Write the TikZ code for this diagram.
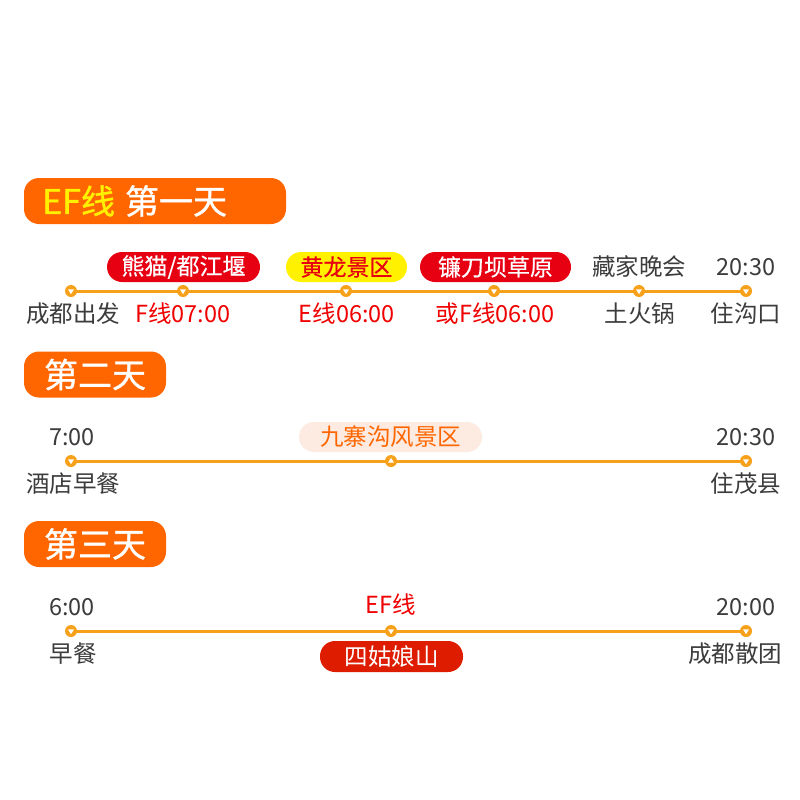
\documentclass[tikz,border=0pt]{standalone}
\usepackage{fontspec}
\setmainfont{Noto Sans CJK SC}
\newfontfamily\hdrfont[FakeBold=1]{Noto Sans CJK SC}
\newfontfamily\pillfont[FakeBold=0.4]{Noto Sans CJK SC}
\usetikzlibrary{backgrounds}
\definecolor{hdor}{HTML}{FF6600}
\definecolor{lnor}{HTML}{F7A11A}
\definecolor{pred}{HTML}{E60012}
\definecolor{pyel}{HTML}{FFF100}
\definecolor{ppch}{HTML}{FDEBE1}
\definecolor{pred3}{HTML}{DD1C00}
\definecolor{txred}{HTML}{F00000}
\definecolor{txgray}{HTML}{3C3C3C}
\begin{document}
\begin{tikzpicture}[x=1pt,y=-1pt,
  hdr/.style={fill=hdor, rounded corners=15pt, minimum height=46pt, inner sep=0pt, text=white, font=\hdrfont\fontsize{34}{34}\selectfont},
  pill/.style={rounded corners=15pt, minimum height=30pt, inner sep=0pt, font=\pillfont\fontsize{23}{23}\selectfont},
  lab/.style={inner sep=0pt, text=txgray, font=\fontsize{23.5}{23.5}\selectfont},
  redlab/.style={lab, text=txred},
  mdown/.style={circle, fill=lnor, inner sep=0pt, minimum size=12pt,
    path picture={\fill[white] ([xshift=-3pt,yshift=1.7pt]path picture bounding box.center) -- ([xshift=3pt,yshift=1.7pt]path picture bounding box.center) -- ([yshift=-3.2pt]path picture bounding box.center) -- cycle;}},
  mup/.style={circle, fill=lnor, inner sep=0pt, minimum size=12pt,
    path picture={\fill[white] ([xshift=-3pt,yshift=-1.7pt]path picture bounding box.center) -- ([xshift=3pt,yshift=-1.7pt]path picture bounding box.center) -- ([yshift=3.2pt]path picture bounding box.center) -- cycle;}},
  tl/.style={draw=lnor, line width=3pt}
]
\useasboundingbox (0,0) rectangle (800,800);

% ---------- Day 1 ----------
\node[hdr, minimum width=262pt] (h1) at (155,201) {};
\node[anchor=west, inner sep=0pt, font=\hdrfont\fontsize{34}{34}\selectfont] (h1t) at (42,201) {\textcolor{pyel}{EF线}\hspace{10pt}\textcolor{white}{第一天}};

\node[mdown] (a1) at (71,291) {};
\node[mdown] (a2) at (183,291) {};
\node[mdown] (a3) at (346,291) {};
\node[mdown] (a4) at (494,291) {};
\node[mdown] (a5) at (639,291) {};
\node[mdown] (a6) at (746,291) {};
\begin{scope}[on background layer]
\fill[white] (0,0) rectangle (800,800);
\draw[tl] (a1.center) -- (a6.center);
\end{scope}

\node[pill, fill=pred, text=white, minimum width=153pt] (p1) at (183.5,267) {熊猫/都江堰};
\node[pill, fill=pyel, text=pred, minimum width=121pt] (p2) at (346.5,267) {黄龙景区};
\node[pill, fill=pred, text=white, minimum width=151pt] (p3) at (495.5,267) {镰刀坝草原};
\node[lab] (t5) at (639,267) {藏家晚会};
\node[lab] (t6) at (746,267) {20:30};

\node[lab] (b1) at (73,314) {成都出发};
\node[redlab] (b2) at (183,314) {F线07:00};
\node[redlab] (b3) at (347,314) {E线06:00};
\node[redlab] (b4) at (495,314) {或F线06:00};
\node[lab] (b5) at (640,314) {土火锅};
\node[lab] (b6) at (746,314) {住沟口};

% ---------- Day 2 ----------
\node[hdr, minimum width=142pt] (h2) at (95,374.5) {第二天};

\node[mdown] (c1) at (71,461) {};
\node[mup] (c2) at (391,461) {};
\node[mdown] (c3) at (746,461) {};
\begin{scope}[on background layer]
\draw[tl] (c1.center) -- (c3.center);
\end{scope}

\node[lab] (d1) at (72,437) {7:00};
\node[pill, fill=ppch, text=hdor, minimum width=183pt, font=\fontsize{23.5}{23.5}\selectfont] (d2) at (390.5,437) {九寨沟风景区};
\node[lab] (d3) at (746,437) {20:30};
\node[lab] (e1) at (73,484) {酒店早餐};
\node[lab] (e3) at (746,484) {住茂县};

% ---------- Day 3 ----------
\node[hdr, minimum width=142pt] (h3) at (95,544) {第三天};

\node[mdown] (f1) at (71,631) {};
\node[mdown] (f2) at (391,631) {};
\node[mdown] (f3) at (746,631) {};
\begin{scope}[on background layer]
\draw[tl] (f1.center) -- (f3.center);
\end{scope}

\node[lab] (g1) at (72,607) {6:00};
\node[redlab] (g2) at (391,605) {EF线};
\node[lab] (g3) at (746,607) {20:00};
\node[lab] (k1) at (73,654) {早餐};
\node[pill, fill=pred3, text=white, minimum width=143pt, minimum height=31pt, font=\fontsize{23.5}{23.5}\selectfont] (k2) at (391.5,656.5) {四姑娘山};
\node[lab] (k3) at (735,654) {成都散团};
\end{tikzpicture}
\end{document}
